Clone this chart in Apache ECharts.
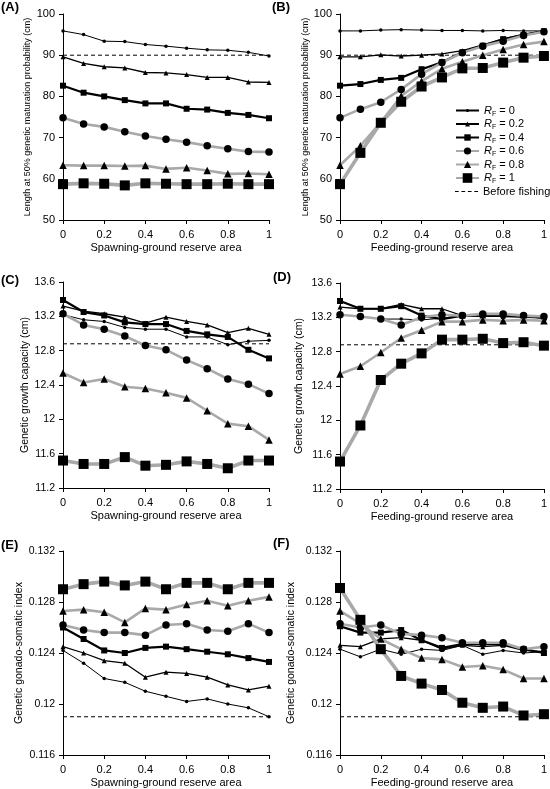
<!DOCTYPE html>
<html><head><meta charset="utf-8">
<script src="https://cdn.jsdelivr.net/npm/echarts@6/dist/echarts.min.js"></script>
<style>html,body{margin:0;padding:0;background:#fff}#c{width:550px;height:789px}</style>
</head><body><div id="c"></div><script>
// ---------- data ----------
const xs = [0, 0.1, 0.2, 0.3, 0.4, 0.5, 0.6, 0.7, 0.8, 0.9, 1];
const rfLabels = ['0', '0.2', '0.4', '0.6', '0.8', '1'];
const xTicks = [0, 0.2, 0.4, 0.6, 0.8, 1];

// (A) maturation length vs spawning-ground reserve
const A_rf0  = [95.9, 95.0, 93.4, 93.3, 92.6, 92.2, 91.7, 91.3, 91.2, 90.7, 89.8];
const A_rf02 = [89.6, 88.0, 87.2, 86.9, 85.8, 85.7, 85.3, 84.6, 84.6, 83.5, 83.4];
const A_rf04 = [82.6, 80.9, 80.0, 79.1, 78.3, 78.3, 77.0, 76.8, 76.0, 75.5, 74.7];
const A_rf06 = [74.8, 73.3, 72.6, 71.4, 70.4, 69.6, 68.9, 68.0, 67.3, 66.6, 66.5];
const A_rf08 = [63.3, 63.2, 63.2, 63.1, 63.2, 62.4, 62.7, 62.0, 61.2, 61.3, 61.1];
const A_rf1  = [58.7, 58.9, 58.8, 58.4, 58.9, 58.8, 58.7, 58.7, 58.8, 58.7, 58.7];
const A_before = 90;

// (B) maturation length vs feeding-ground reserve
const B_rf0  = [95.9, 95.9, 96.1, 96.2, 96.1, 96.0, 96.0, 95.9, 96.0, 95.9, 95.9];
const B_rf02 = [89.6, 89.6, 90.1, 89.8, 90.0, 90.3, 91.1, 92.5, 93.9, 95.1, 95.9];
const B_rf04 = [82.6, 83.0, 84.0, 84.5, 86.6, 88.3, 90.7, 92.3, 93.9, 94.9, 95.8];
const B_rf06 = [74.8, 76.9, 78.6, 81.7, 85.4, 88.2, 90.6, 92.2, 93.4, 94.8, 95.7];
const B_rf08 = [63.3, 68.0, 73.7, 80.1, 83.7, 86.7, 88.4, 90.0, 91.4, 92.6, 93.3];
const B_rf1  = [58.7, 66.3, 73.6, 78.7, 82.4, 84.6, 86.8, 86.9, 88.2, 89.4, 89.8];
const B_before = 90;

// (C) growth capacity vs spawning-ground reserve
const C_rf0  = [13.22, 13.16, 13.14, 13.07, 13.05, 13.05, 12.96, 12.96, 12.87, 12.91, 12.92];
const C_rf02 = [13.32, 13.26, 13.23, 13.19, 13.12, 13.19, 13.14, 13.10, 13.01, 13.06, 12.99];
const C_rf04 = [13.39, 13.25, 13.21, 13.13, 13.11, 13.11, 13.03, 12.99, 12.96, 12.81, 12.71];
const C_rf06 = [13.23, 13.10, 13.05, 12.97, 12.86, 12.81, 12.69, 12.59, 12.47, 12.41, 12.30];
const C_rf08 = [12.54, 12.43, 12.47, 12.38, 12.36, 12.31, 12.25, 12.10, 11.95, 11.92, 11.76];
const C_rf1  = [11.52, 11.48, 11.48, 11.56, 11.46, 11.47, 11.51, 11.48, 11.43, 11.52, 11.52];
const C_before = 12.88;

// (D) growth capacity vs feeding-ground reserve
const D_rf0  = [13.23, 13.21, 13.18, 13.18, 13.17, 13.19, 13.22, 13.21, 13.21, 13.20, 13.19];
const D_rf02 = [13.32, 13.30, 13.30, 13.35, 13.30, 13.30, 13.22, 13.22, 13.21, 13.21, 13.19];
const D_rf04 = [13.39, 13.30, 13.30, 13.33, 13.22, 13.18, 13.22, 13.22, 13.23, 13.21, 13.20];
const D_rf06 = [13.23, 13.21, 13.18, 13.11, 13.20, 13.23, 13.22, 13.24, 13.24, 13.22, 13.21];
const D_rf08 = [12.54, 12.63, 12.79, 12.96, 13.05, 13.15, 13.15, 13.17, 13.16, 13.17, 13.16];
const D_rf1  = [11.52, 11.94, 12.47, 12.66, 12.78, 12.94, 12.94, 12.95, 12.90, 12.91, 12.87];
const D_before = 12.88;

// (E) gonado-somatic index vs spawning-ground reserve
const E_rf0  = [0.1242, 0.1232, 0.1220, 0.1217, 0.1210, 0.1206, 0.1202, 0.1204, 0.1200, 0.1197, 0.1190];
const E_rf02 = [0.1245, 0.1240, 0.1234, 0.1232, 0.1221, 0.1225, 0.1224, 0.1221, 0.1215, 0.1211, 0.1214];
const E_rf04 = [0.1260, 0.1251, 0.1242, 0.1240, 0.1244, 0.1245, 0.1243, 0.1241, 0.1239, 0.1236, 0.1233];
const E_rf06 = [0.1262, 0.1258, 0.1256, 0.1256, 0.1254, 0.1262, 0.1263, 0.1258, 0.1257, 0.1263, 0.1256];
const E_rf08 = [0.1273, 0.1274, 0.1272, 0.1264, 0.1275, 0.1274, 0.1278, 0.1281, 0.1277, 0.1281, 0.1284];
const E_rf1  = [0.1290, 0.1294, 0.1296, 0.1293, 0.1296, 0.1290, 0.1295, 0.1295, 0.1290, 0.1295, 0.1295];
const E_before = 0.1190;

// (F) gonado-somatic index vs feeding-ground reserve
const F_rf0  = [0.1243, 0.1237, 0.1243, 0.1239, 0.1243, 0.1242, 0.1246, 0.1239, 0.1242, 0.1240, 0.1241];
const F_rf02 = [0.1246, 0.1245, 0.1251, 0.1252, 0.1250, 0.1243, 0.1246, 0.1245, 0.1246, 0.1242, 0.1241];
const F_rf04 = [0.1261, 0.1256, 0.1256, 0.1258, 0.1250, 0.1244, 0.1247, 0.1247, 0.1247, 0.1243, 0.1240];
const F_rf06 = [0.1263, 0.1260, 0.1262, 0.1255, 0.1254, 0.1252, 0.1248, 0.1248, 0.1248, 0.1243, 0.1245];
const F_rf08 = [0.1273, 0.1263, 0.1251, 0.1243, 0.1236, 0.1235, 0.1229, 0.1230, 0.1227, 0.1220, 0.1220];
const F_rf1  = [0.1291, 0.1266, 0.1243, 0.1222, 0.1216, 0.1211, 0.1201, 0.1197, 0.1198, 0.1191, 0.1192];
const F_before = 0.1190;

// ---------- layout / styles ----------
const FONT = 'Liberation Sans, Arial, Helvetica, sans-serif';
const GREY = '#a9a9a9';
const styles = [
  {symbol: 'circle',   size: 3.5, line: '#000', width: 1},
  {symbol: 'triangle', size: 5,   line: '#000', width: 1.3},
  {symbol: 'rect',     size: 6,   line: '#000', width: 2.2},
  {symbol: 'circle',   size: 7.5, line: GREY,   width: 2.6},
  {symbol: 'triangle', size: 7.5, line: GREY,   width: 2.6},
  {symbol: 'rect',     size: 10,  line: GREY,   width: 3.6}
];
const legendItemH = [4, 6, 8, 9, 9, 12];

const panels = [
  {tag: '(A)', lx: 1,   ly: 1,   left: 63,  top: 14,  ymin: 50,    ymax: 100,   yint: 10,    ylabSize: 11,   yname: 'Length at 50% genetic maturation probability (cm)', ynameSize: 9,    ygap: 31, xname: 'Spawning-ground reserve area', series: [A_rf0, A_rf02, A_rf04, A_rf06, A_rf08, A_rf1], before: A_before},
  {tag: '(B)', lx: 272, ly: 1,   left: 340, top: 14,  ymin: 50,    ymax: 100,   yint: 10,    ylabSize: 11,   yname: 'Length at 50% genetic maturation probability (cm)', ynameSize: 9,    ygap: 29, xname: 'Feeding-ground reserve area',  series: [B_rf0, B_rf02, B_rf04, B_rf06, B_rf08, B_rf1], before: B_before},
  {tag: '(C)', lx: 1,   ly: 274, left: 63,  top: 282, ymin: 11.2,  ymax: 13.6,  yint: 0.4,   ylabSize: 10.5, yname: 'Genetic growth capacity (cm)',                     ynameSize: 10.5, ygap: 31, xname: 'Spawning-ground reserve area', series: [C_rf0, C_rf02, C_rf04, C_rf06, C_rf08, C_rf1], before: C_before},
  {tag: '(D)', lx: 273, ly: 271, left: 340, top: 283, ymin: 11.2,  ymax: 13.6,  yint: 0.4,   ylabSize: 10.5, yname: 'Genetic growth capacity (cm)',                     ynameSize: 10.5, ygap: 35, xname: 'Feeding-ground reserve area',  series: [D_rf0, D_rf02, D_rf04, D_rf06, D_rf08, D_rf1], before: D_before},
  {tag: '(E)', lx: 1,   ly: 539, left: 63,  top: 551, ymin: 0.116, ymax: 0.132, yint: 0.004, ylabSize: 10.5, yname: 'Genetic gonado-somatic index',                     ynameSize: 10.5, ygap: 38, xname: 'Spawning-ground reserve area', series: [E_rf0, E_rf02, E_rf04, E_rf06, E_rf08, E_rf1], before: E_before},
  {tag: '(F)', lx: 273, ly: 537, left: 340, top: 551, ymin: 0.116, ymax: 0.132, yint: 0.004, ylabSize: 10.5, yname: 'Genetic gonado-somatic index',                     ynameSize: 10.5, ygap: 43, xname: 'Feeding-ground reserve area',  series: [F_rf0, F_rf02, F_rf04, F_rf06, F_rf08, F_rf1], before: F_before}
];

const seriesName = i => 'R_F = ' + rfLabels[i];

const grid = [], xAxis = [], yAxis = [], series = [], graphic = [], legend = [];
panels.forEach((p, k) => {
  grid.push({left: p.left, top: p.top, width: 206, height: 206, containLabel: false});
  xAxis.push({
    type: 'value', gridIndex: k, min: 0, max: 1, interval: 0.2,
    name: p.xname, nameLocation: 'middle', nameGap: 22,
    nameTextStyle: {fontFamily: FONT, fontSize: 11, color: '#000'},
    axisLine: {show: true, onZero: false, lineStyle: {color: '#000', width: 1}},
    axisTick: {show: true, length: 4, lineStyle: {color: '#000'}},
    axisLabel: {fontFamily: FONT, fontSize: 11, color: '#000', margin: 9},
    splitLine: {show: false}
  });
  yAxis.push({
    type: 'value', gridIndex: k, min: p.ymin, max: p.ymax, interval: p.yint,
    name: p.yname, nameLocation: 'middle', nameGap: p.ygap,
    nameTextStyle: {fontFamily: FONT, fontSize: p.ynameSize, color: '#000'},
    axisLine: {show: true, lineStyle: {color: '#000', width: 1}},
    axisTick: {show: true, length: 4, lineStyle: {color: '#000'}},
    axisLabel: {fontFamily: FONT, fontSize: p.ylabSize, color: '#000', margin: 8},
    splitLine: {show: false}
  });
  series.push({
    name: 'Before fishing', type: 'line', xAxisIndex: k, yAxisIndex: k,
    data: [[xs[0], p.before], [xs[xs.length - 1], p.before]],
    symbol: 'none', itemStyle: {color: '#000'},
    lineStyle: {color: '#000', width: 1, type: [4, 3]}, z: 1, silent: true
  });
  p.series.forEach((vals, i) => {
    const s = styles[i];
    series.push({
      name: seriesName(i), type: 'line', xAxisIndex: k, yAxisIndex: k,
      data: xs.map((x, j) => [x, vals[j]]),
      symbol: s.symbol, symbolSize: s.size, showSymbol: true,
      itemStyle: {color: '#000', borderWidth: 0},
      lineStyle: {color: s.line, width: s.width},
      z: 2 + i, silent: true
    });
  });
  graphic.push({type: 'text', left: p.lx, top: p.ly,
    style: {text: p.tag, font: 'bold 13px ' + FONT, fill: '#000'}});
});

// legend (in panel B), one legend per entry so each keeps its own symbol size
const rowY = [112, 125.5, 139, 152.5, 166, 179.5, 193];
const rich = {
  r: {fontFamily: FONT, fontSize: 11, fontStyle: 'italic', color: '#000', lineHeight: 14},
  f: {fontFamily: FONT, fontSize: 7, color: '#000', verticalAlign: 'bottom', lineHeight: 14},
  n: {fontFamily: FONT, fontSize: 11, color: '#000', lineHeight: 14}
};
rfLabels.forEach((lab, i) => {
  const h = legendItemH[i];
  legend.push({
    data: [seriesName(i)], left: 455, top: rowY[i] - 7, orient: 'vertical',
    itemWidth: 23, itemHeight: h, padding: 0, selectedMode: false,
    formatter: () => '{r|R}{f|F}{n| = ' + lab + '}',
    textStyle: {rich: rich, color: '#000'}
  });
});
legend.push({
  data: [{name: 'Before fishing', icon: 'path://M0,0h4v1.2h-4zM7,0h4v1.2h-4zM14,0h4v1.2h-4zM21,0h4v1.2h-4z'}],
  left: 455, top: rowY[6] - 7, orient: 'vertical', itemWidth: 23, itemHeight: 8, padding: 0,
  selectedMode: false,
  textStyle: {fontFamily: FONT, fontSize: 11, color: '#000'}
});

const chart = echarts.init(document.getElementById('c'), null, {renderer: 'canvas'});
chart.setOption({
  animation: false,
  backgroundColor: '#fff',
  textStyle: {fontFamily: FONT},
  grid, xAxis, yAxis, series, legend, graphic
});
</script></body></html>
